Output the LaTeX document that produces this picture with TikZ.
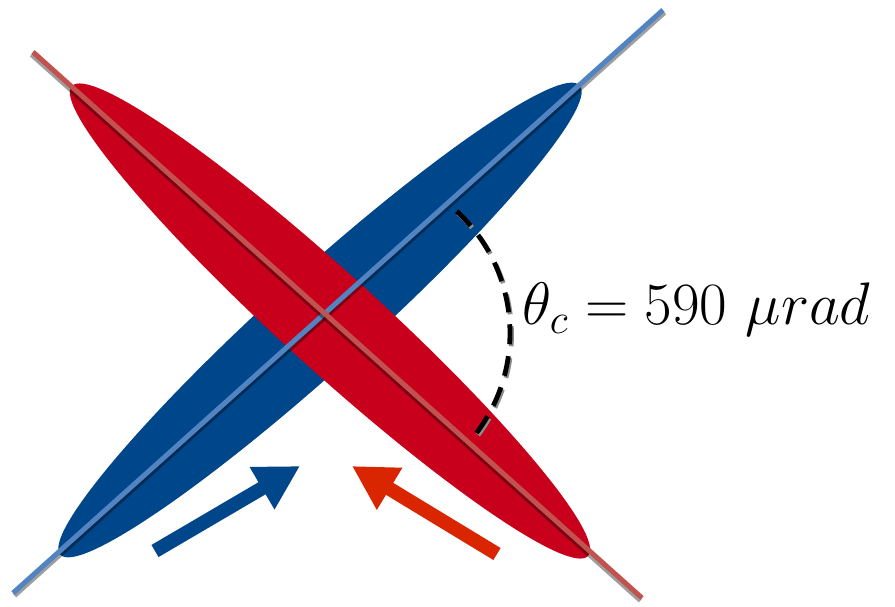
\RequirePackage{fix-cm}
\documentclass[tikz,border=0pt]{standalone}
\usetikzlibrary{arrows.meta}
\definecolor{bunchblue}{RGB}{0,70,138}
\definecolor{bunchred}{RGB}{200,0,28}
\definecolor{axisblue}{RGB}{82,132,194}
\definecolor{axisred}{RGB}{194,82,80}
\definecolor{arrowred}{RGB}{218,38,0}
\tikzset{
  axisline/.style={line width=2.5pt},
  axisshadow/.style={line width=2.5pt,black,opacity=0.38},
  beamarrow/.style={line width=7pt,-{Triangle[length=22pt,width=23pt]}},
  anglearc/.style={line width=2.4pt,dash pattern=on 10pt off 6pt}
}
\begin{document}
\begin{tikzpicture}[x=0.5pt,y=-0.5pt,line join=round]
  \useasboundingbox (0,0) rectangle (895,606);
  % beam axes and crossing
  \coordinate (B1) at (13,593);
  \coordinate (B2) at (663,10);
  \coordinate (R1) at (33,52);
  \coordinate (R2) at (642,598);
  \coordinate (IP) at (344,333);
  % bunches
  \fill[bunchblue,rotate around={42.1:(320,320)}] (320,320) ellipse[x radius=350,y radius=48];
  \fill[bunchred,rotate around={-42.3:(330,321)}] (330,321) ellipse[x radius=349,y radius=48];
  % axes with shadow
  \draw[axisshadow] ([shift={(1.5,2.5)}]B1) -- ([shift={(1.5,2.5)}]B2);
  \draw[axisline,axisblue] (B1) -- (B2);
  \draw[axisshadow] ([shift={(-1.5,2.5)}]R1) -- ([shift={(-1.5,2.5)}]R2);
  \draw[axisline,axisred] (R1) -- (R2);
  % crossing angle
  \draw[anglearc,black!45] ([shift={(-47.2:166)}]IP) ++(1.5,2) arc[start angle=-47.2,end angle=38.7,radius=166];
  \draw[anglearc] ([shift={(-47.2:166)}]IP) arc[start angle=-47.2,end angle=38.7,radius=166];
  \node[anchor=base west,inner sep=0pt,font=\fontsize{30}{36}\selectfont] (lbl) at (522,324) {$\theta_c = 590\ \mu rad$};
  % beam directions
  \coordinate (BA1) at (155,551);
  \coordinate (BA2) at (300,466);
  \coordinate (RA1) at (497,554);
  \coordinate (RA2) at (352,466);
  \draw[beamarrow,bunchblue] (BA1) -- (BA2);
  \draw[beamarrow,arrowred] (RA1) -- (RA2);
\end{tikzpicture}
\end{document}
